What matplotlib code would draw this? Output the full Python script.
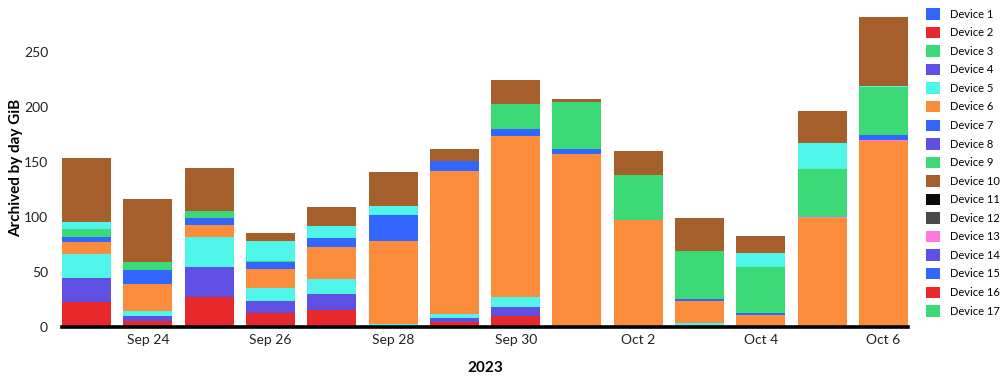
import numpy as np
import pandas as pd
import matplotlib
matplotlib.use("Agg")
from matplotlib import pyplot as plt
from matplotlib.patches import Patch
import matplotlib.dates as mdates

plt.rcParams['font.family'] = ['Lato', 'DejaVu Sans']

# Days shown
days = pd.date_range("2023-09-23", "2023-10-06", freq="D")

# Legend entries (name, colour)
devices = ["Device %d" % i for i in range(1, 18)]
device_colors = ["#3366ff", "#e8282a", "#3cd977", "#604fe3", "#50f5ea", "#fb8c3c",
                 "#3366ff", "#604fe3", "#3cd977", "#a55f2b", "#0b0b0b", "#4a4a4a",
                 "#ff79dc", "#604fe3", "#3366ff", "#e8282a", "#3cd977"]

# Stacked series, bottom to top (GiB per day)
dev16 = [22.8, 5.5, 27.3, 12.2, 15.2, 0, 4.6, 9.7, 0, 0, 0, 0, 0, 0]
dev14 = [21.8, 4.2, 27.4, 11.2, 14.3, 0, 3.6, 8.5, 0, 0, 0, 0, 0, 0]
dev5 = [21.9, 4.6, 27.3, 11.9, 14.2, 2.7, 3.6, 8.9, 0, 0, 3.4, 0, 0, 0]
dev6 = [10.4, 24.9, 10.4, 17.5, 28.6, 75.4, 130.3, 146.9, 157.1, 97.5, 20.0, 10.4, 99.2, 169.0]
dev13 = [0, 0, 0, 0, 0, 0, 0, 0, 0, 0, 0, 0, 0.8, 0.8]
dev15 = [4.6, 12.2, 6.9, 6.4, 8.2, 23.4, 8.6, 6.1, 4.8, 0, 1.8, 2.1, 0, 4.9]
dev17 = [7.5, 7.3, 6.4, 0.5, 0, 0, 0, 23.1, 42.5, 40.7, 43.8, 42.2, 44.0, 44.0]
dev5_upper = [6.7, 0, 0, 18.2, 11.5, 8.5, 0, 0, 0, 0, 0, 12.2, 23.4, 0.9]
dev10 = [57.7, 57.6, 38.6, 7.1, 17.3, 31.2, 11.5, 21.3, 2.8, 22.2, 29.8, 16.0, 29.4, 62.3]

layers = [(dev16, "#e8282a"), (dev14, "#604fe3"), (dev5, "#50f5ea"), (dev6, "#fb8c3c"),
          (dev13, "#ff79dc"), (dev15, "#3366ff"), (dev17, "#3cd977"),
          (dev5_upper, "#50f5ea"), (dev10, "#a55f2b")]

fig = plt.figure(figsize=(10, 3.79), dpi=100)
ax = fig.add_axes([0.062, 0.138, 0.846, 0.840])

bottom = np.zeros(len(days))
for vals, col in layers:
    vals = np.array(vals)
    ax.bar(days, vals, width=0.8, bottom=bottom, color=col, linewidth=0)
    bottom += vals

ax.set_xlim(days[0] - pd.Timedelta(hours=0.4 * 24), days[-1] + pd.Timedelta(hours=0.4 * 24))
ax.set_ylim(0, 290)

ticks = pd.date_range("2023-09-24", "2023-10-06", freq="2D")
ax.set_xticks(ticks)
ax.xaxis.set_major_formatter(mdates.DateFormatter("%b %-d"))
ax.set_yticks([0, 50, 100, 150, 200, 250])
ax.tick_params(axis="both", length=0, labelsize=10, colors="#222222")
ax.tick_params(axis="x", pad=5)
ax.tick_params(axis="y", pad=10)

for s in ["top", "right", "left"]:
    ax.spines[s].set_visible(False)
ax.spines["bottom"].set_linewidth(2.6)
ax.spines["bottom"].set_color("black")

ax.set_ylabel("Archived by day GiB", fontsize=11, fontweight="bold")
ax.yaxis.set_label_coords(-0.046, 0.5)
ax.set_xlabel("2023", fontsize=11, fontweight="bold", labelpad=11)

handles = [Patch(facecolor=c, edgecolor="none", label=d) for d, c in zip(devices, device_colors)]
fig.legend(handles=handles, loc="upper left", bbox_to_anchor=(0.922, 0.99), frameon=False,
           fontsize=8, handlelength=1.2, handleheight=1.2, handletextpad=0.9,
           labelspacing=0.64, borderaxespad=0)

fig.savefig("out.png", dpi=100)
